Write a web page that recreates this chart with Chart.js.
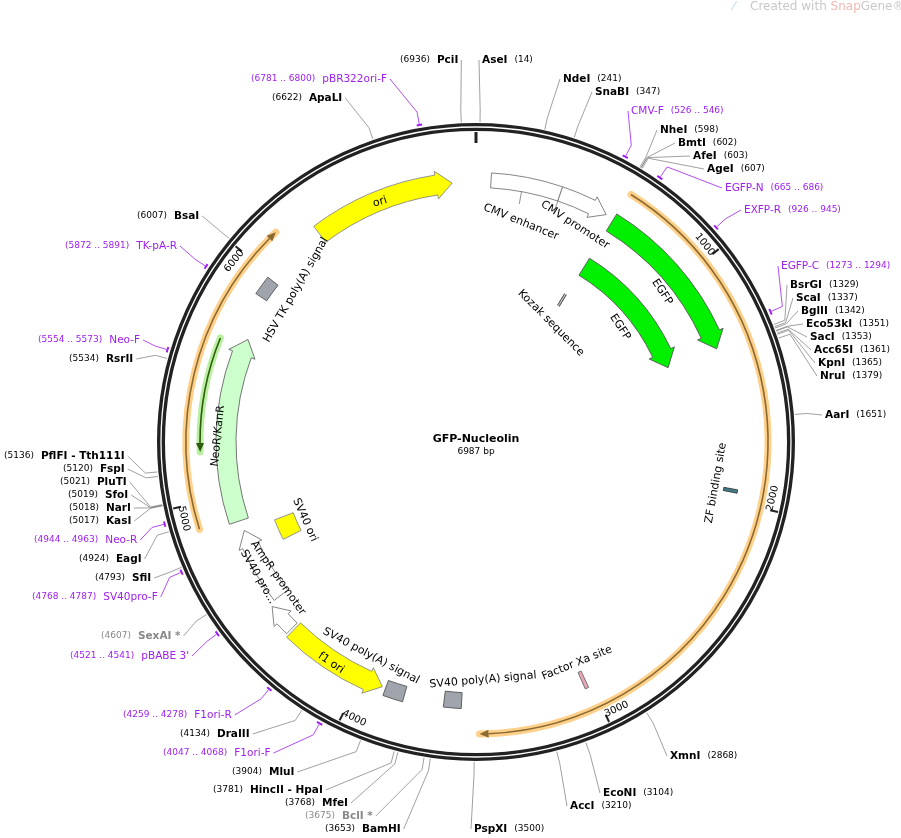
<!DOCTYPE html>
<html>
<head>
<meta charset="utf-8">
<script src="https://cdn.jsdelivr.net/npm/chart.js@4.4.1/dist/chart.umd.min.js"></script>
<style>
body { margin: 0; background: #fff; }
#map { display: block; }
</style>
</head>
<body>
<canvas id="map" width="901" height="838"></canvas>
<script>
const plasmidName = "GFP-Nucleolin";
const plasmidLength = 6987;

// features
const featureNames = ["CMV enhancer", "CMV promoter", "EGFP", "EGFP", "Kozak sequence", "", "", "NeoR/KanR",
  "HSV TK poly(A) signal", "ori", "SV40 ori", "SV40 promoter", "AmpR promoter", "f1 ori",
  "SV40 poly(A) signal", "SV40 poly(A) signal", "Factor Xa site", "ZF binding site", ""];
const featureStart = [64, 364, 615, 615, 605, 622, 5200, 4882, 5900, 6270, 4720, 4500, 4360, 3900, 3800, 3555, 3015, 1948, 4900];
const featureEnd   = [364, 578, 1336, 1336, 612, 3480, 5670, 5710, 5985, 6885, 4830, 4835, 4485, 4350, 3885, 3630, 3030, 1962, 6140];
const featureDir   = [0, 1, 1, 1, 0, 1, -1, 1, 0, 1, 0, 1, 1, -1, 0, 0, 0, 0, 1];

// restriction sites
const siteNames = ["PciI", "AseI", "NdeI", "SnaBI", "NheI", "BmtI", "AfeI", "AgeI", "BsrGI", "ScaI", "BglII",
  "Eco53kI", "SacI", "Acc65I", "KpnI", "NruI", "AarI", "XmnI", "EcoNI", "AccI", "PspXI", "BamHI", "BclI *",
  "MfeI", "HincII - HpaI", "MluI", "DraIII", "SexAI *", "SfiI", "EagI", "KasI", "NarI", "SfoI", "PluTI",
  "FspI", "PflFI - Tth111I", "RsrII", "BsaI", "ApaLI"];
const sitePos = [6936, 14, 241, 347, 598, 602, 603, 607, 1329, 1337, 1342, 1351, 1353, 1361, 1365, 1379, 1651,
  2868, 3104, 3210, 3500, 3653, 3675, 3768, 3781, 3904, 4134, 4607, 4793, 4924, 5017, 5018, 5019, 5021,
  5120, 5136, 5534, 6007, 6622];

// primers
const primerNames = ["CMV-F", "EGFP-N", "EXFP-R", "EGFP-C", "F1ori-F", "F1ori-R", "pBABE 3'", "SV40pro-F",
  "Neo-R", "Neo-F", "TK-pA-R", "pBR322ori-F"];
const primerStart = [526, 665, 926, 1273, 4047, 4259, 4521, 4768, 4944, 5554, 5872, 6781];
const primerEnd   = [546, 686, 945, 1294, 4068, 4278, 4541, 4787, 4963, 5573, 5891, 6800];

// ruler
const rulerTicks = [1000, 2000, 3000, 4000, 5000, 6000];

// ---- layout / style (not data) ----
const featureStyle = [
  { r: 262, w: 15, fill: "#ffffff", line: "#777" },
  { r: 262, w: 15, fill: "#ffffff", line: "#777" },
  { r: 258, w: 20, fill: "#00f000", line: "#555" },
  { r: 206, w: 20, fill: "#00f000", line: "#555" },
  { r: 166, w: 14, fill: "#ddd", line: "#666", thin: true },
  { r: 292, glow: "#ffd08a", line: "#8a6a30" },
  { r: 276, glow: "#b8f0a0", line: "#2f5a10" },
  { r: 250, w: 20, fill: "#ccffcc", line: "#666" },
  { r: 259, w: 13, fill: "#a0a4ac", line: "#555" },
  { r: 260, w: 20, fill: "#ffff00", line: "#888" },
  { r: 206, w: 20, fill: "#ffff00", line: "#888" },
  { r: 248, w: 17, fill: "#ffffff", line: "#777" },
  { r: 262, w: 15, fill: "#ffffff", line: "#777" },
  { r: 262, w: 20, fill: "#ffff00", line: "#888" },
  { r: 262, w: 16, fill: "#a0a4ac", line: "#555" },
  { r: 259, w: 16, fill: "#a0a4ac", line: "#555" },
  { r: 261, w: 18, fill: "#e8a8b8", line: "#666" },
  { r: 259, w: 14, fill: "#3f7f8c", line: "#333" },
  { r: 290, glow: "#ffd08a", line: "#8a6a30" }
];
const featureLabelAt = [
  [521, 222, 22], [575, 225, 33], [662, 292, 57], [620, 327, 57], [551, 323, 45], null, null,
  [218, 436, -84], [296, 290, -60], [380, 202, -17], [305, 520, 66], [258, 577, 60], [278, 578, 55],
  [331, 663, 34], [371, 656, 28], [483, 680, -5], [577, 663, -22], [716, 483, -80], null
];
const siteLabelAt = [
  [400, 60, -1], [482, 60, 1], [563, 79, 1], [595, 92, 1], [660, 130, 1], [678, 143, 1], [693, 156, 1],
  [707, 169, 1], [790, 285, 1], [796, 298, 1], [801, 311, 1], [806, 324, 1], [810, 337, 1], [814, 350, 1],
  [818, 363, 1], [820, 376, 1], [825, 415, 1], [670, 756, 1], [603, 793, 1], [570, 806, 1], [474, 829, 1],
  [325, 829, -1], [305, 816, -1], [285, 803, -1], [213, 790, -1], [232, 772, -1], [180, 734, -1],
  [101, 636, -1], [95, 578, -1], [79, 559, -1], [69, 521, -1], [69, 508, -1], [68, 495, -1], [60, 482, -1],
  [63, 469, -1], [4, 456, -1], [69, 359, -1], [137, 216, -1], [272, 98, -1]
];
const primerLabelAt = [
  [631, 111, 1], [725, 188, 1], [744, 210, 1], [781, 266, 1], [163, 753, -1], [123, 715, -1], [70, 656, -1],
  [32, 597, -1], [34, 540, -1], [38, 340, -1], [65, 246, -1], [251, 79, -1]
];

const FONT = "'DejaVu Sans', sans-serif";
const deg = bp => bp / plasmidLength * 360;

const mapPlugin = {
  id: "plasmidMap",
  afterDraw(chart) {
    const ctx = chart.ctx;
    const xs = chart.scales.x, ys = chart.scales.y;
    const cx = xs.getPixelForValue(0), cy = ys.getPixelForValue(0);
    const k = xs.getPixelForValue(1) - cx;
    const pt = (bp, r) => {
      const t = deg(bp) * Math.PI / 180;
      return [xs.getPixelForValue(r * Math.sin(t)), ys.getPixelForValue(r * Math.cos(t))];
    };
    const ca = bp => (deg(bp) - 90) * Math.PI / 180;

    function leader(bp, r0, lx, ly, side, w, color) {
      const p = pt(bp, r0);
      const p2 = pt(bp, r0 + 12);
      ctx.strokeStyle = color; ctx.lineWidth = 0.8;
      ctx.beginPath(); ctx.moveTo(p[0], p[1]); ctx.lineTo(p2[0], p2[1]);
      ctx.lineTo(side > 0 ? lx - 3 : lx + w + 3, ly); ctx.stroke();
    }
    function twoPart(x, y, a, fa, b, fb, color) {
      ctx.fillStyle = color; ctx.textBaseline = "middle"; ctx.textAlign = "left";
      ctx.font = fa; ctx.fillText(a, x, y);
      const w1 = ctx.measureText(a).width + 7;
      ctx.font = fb; ctx.fillText(b, x + w1, y);
    }
    function measure(a, fa, b, fb) {
      ctx.font = fa; const w1 = ctx.measureText(a).width + 7;
      ctx.font = fb; return w1 + ctx.measureText(b).width;
    }

    sitePos.forEach((pos, i) => {
      const [lx, ly, side] = siteLabelAt[i];
      const grey = siteNames[i].includes("*");
      const nf = "bold 10.5px " + FONT, pf = "9px " + FONT;
      const w = side > 0 ? measure(siteNames[i], nf, "(" + pos + ")", pf) : measure("(" + pos + ")", pf, siteNames[i], nf);
      leader(pos, 320, lx, ly, side, w, "#888");
      const col = grey ? "#888" : "#000";
      if (side > 0) twoPart(lx, ly, siteNames[i], nf, "(" + pos + ")", pf, col);
      else twoPart(lx, ly, "(" + pos + ")", pf, siteNames[i], nf, col);
    });

    primerStart.forEach((s, i) => {
      const e = primerEnd[i];
      const [lx, ly, side] = primerLabelAt[i];
      const rng = "(" + s + " .. " + e + ")";
      const nf = "10.5px " + FONT, pf = "9px " + FONT;
      const w = side > 0 ? measure(primerNames[i], nf, rng, pf) : measure(rng, pf, primerNames[i], nf);
      const mid = (s + e) / 2;
      leader(mid, 323, lx, ly, side, w, "#a020f0");
      ctx.strokeStyle = "#a020f0"; ctx.lineWidth = 2;
      ctx.beginPath(); ctx.arc(cx, cy, 322 * k, ca(s), ca(e)); ctx.stroke();
      if (side > 0) twoPart(lx, ly, primerNames[i], nf, rng, pf, "#a020f0");
      else twoPart(lx, ly, rng, pf, primerNames[i], nf, "#a020f0");
    });

    // backbone ring
    ctx.strokeStyle = "#222"; ctx.lineWidth = 8;
    ctx.beginPath(); ctx.arc(cx, cy, 315 * k, 0, Math.PI * 2); ctx.stroke();
    ctx.strokeStyle = "#fff"; ctx.lineWidth = 1.3;
    ctx.beginPath(); ctx.arc(cx, cy, 315 * k, 0, Math.PI * 2); ctx.stroke();

    // ruler
    ctx.strokeStyle = "#222"; ctx.lineWidth = 3;
    const a = pt(0, 310), b = pt(0, 299);
    ctx.beginPath(); ctx.moveTo(a[0], a[1]); ctx.lineTo(b[0], b[1]); ctx.stroke();
    rulerTicks.forEach(t => {
      const a1 = pt(t, 310), b1 = pt(t, 302);
      ctx.lineWidth = 2;
      ctx.beginPath(); ctx.moveTo(a1[0], a1[1]); ctx.lineTo(b1[0], b1[1]); ctx.stroke();
      const d = deg(t);
      const q = pt(t - 45, 302);
      let rot = d;
      if (d > 90 && d < 270) rot = d - 180;
      ctx.save(); ctx.translate(q[0], q[1]); ctx.rotate(rot * Math.PI / 180);
      ctx.font = "10px " + FONT; ctx.fillStyle = "#000"; ctx.textAlign = "center"; ctx.textBaseline = "middle";
      ctx.fillText(String(t), 0, 0); ctx.restore();
    });

    // features
    featureStart.forEach((s, i) => {
      const e = featureEnd[i], st = featureStyle[i], dir = featureDir[i];
      const R = st.r * k;
      if (st.glow) {
        const a0 = ca(s), a1 = ca(e);
        ctx.lineCap = "round";
        ctx.strokeStyle = st.glow; ctx.lineWidth = 7;
        ctx.beginPath(); ctx.arc(cx, cy, R, a0, a1); ctx.stroke();
        ctx.lineCap = "butt";
        ctx.strokeStyle = st.line; ctx.lineWidth = 1.6;
        const h = 9 / R;
        ctx.beginPath();
        if (dir > 0) ctx.arc(cx, cy, R, a0, a1 - h); else ctx.arc(cx, cy, R, a0 + h, a1);
        ctx.stroke();
        const tip = dir > 0 ? a1 : a0, base = dir > 0 ? a1 - h : a0 + h;
        ctx.fillStyle = st.line; ctx.beginPath();
        ctx.moveTo(cx + R * Math.cos(tip), cy + R * Math.sin(tip));
        ctx.lineTo(cx + (R + 4) * Math.cos(base), cy + (R + 4) * Math.sin(base));
        ctx.lineTo(cx + (R - 4) * Math.cos(base), cy + (R - 4) * Math.sin(base));
        ctx.closePath(); ctx.fill();
        return;
      }
      if (st.thin) {
        const p = pt(s, st.r - 7), q = pt(s, st.r + 7);
        ctx.strokeStyle = "#555"; ctx.lineWidth = 3;
        ctx.beginPath(); ctx.moveTo(p[0], p[1]); ctx.lineTo(q[0], q[1]); ctx.stroke();
        ctx.strokeStyle = "#ddd"; ctx.lineWidth = 1;
        ctx.beginPath(); ctx.moveTo(p[0], p[1]); ctx.lineTo(q[0], q[1]); ctx.stroke();
        return;
      }
      const ri = R - st.w / 2, ro = R + st.w / 2;
      const a0 = ca(s), a1 = ca(e);
      ctx.beginPath();
      if (dir === 0) {
        ctx.arc(cx, cy, ro, a0, a1); ctx.arc(cx, cy, ri, a1, a0, true);
      } else {
        const h = Math.min(16 / R, (a1 - a0) * 0.6);
        if (dir > 0) {
          ctx.arc(cx, cy, ro, a0, a1 - h);
          ctx.lineTo(cx + (ro + 4) * Math.cos(a1 - h), cy + (ro + 4) * Math.sin(a1 - h));
          ctx.lineTo(cx + R * Math.cos(a1), cy + R * Math.sin(a1));
          ctx.lineTo(cx + (ri - 4) * Math.cos(a1 - h), cy + (ri - 4) * Math.sin(a1 - h));
          ctx.arc(cx, cy, ri, a1 - h, a0, true);
        } else {
          ctx.moveTo(cx + R * Math.cos(a0), cy + R * Math.sin(a0));
          ctx.lineTo(cx + (ro + 4) * Math.cos(a0 + h), cy + (ro + 4) * Math.sin(a0 + h));
          ctx.arc(cx, cy, ro, a0 + h, a1);
          ctx.arc(cx, cy, ri, a1, a0 + h, true);
          ctx.lineTo(cx + (ri - 4) * Math.cos(a0 + h), cy + (ri - 4) * Math.sin(a0 + h));
        }
      }
      ctx.closePath();
      ctx.fillStyle = st.fill; ctx.fill();
      ctx.strokeStyle = st.line; ctx.lineWidth = 0.9; ctx.stroke();
    });
    // little pointer lines from CMV labels to the arrow
    ctx.strokeStyle = "#777"; ctx.lineWidth = 0.8;
    [[200, 255, 242], [364, 255, 242]].forEach(([bp, r0, r1]) => {
      const p = pt(bp, r0), q = pt(bp, r1);
      ctx.beginPath(); ctx.moveTo(p[0], p[1]); ctx.lineTo(q[0], q[1]); ctx.stroke();
    });

    // feature labels
    featureNames.forEach((n, i) => {
      const L = featureLabelAt[i];
      if (!L || !n) return;
      const txt = i === 11 ? "SV40 pro..." : n;
      ctx.save(); ctx.translate(L[0], L[1]); ctx.rotate(L[2] * Math.PI / 180);
      ctx.font = "11px " + FONT; ctx.fillStyle = "#000"; ctx.textAlign = "center"; ctx.textBaseline = "middle";
      ctx.fillText(txt, 0, 0); ctx.restore();
    });

    // centre title
    ctx.textAlign = "center"; ctx.textBaseline = "middle"; ctx.fillStyle = "#000";
    ctx.font = "bold 11px " + FONT; ctx.fillText(plasmidName, cx, cy - 3);
    ctx.font = "9px " + FONT; ctx.fillText(plasmidLength + " bp", cx, cy + 10);

    // watermark
    ctx.textAlign = "left"; ctx.font = "12px " + FONT;
    ctx.fillStyle = "#b8d8ea"; ctx.fillText("⁄", 733, 7);
    ctx.fillStyle = "#c8c8c8"; ctx.fillText("Created with ", 750, 7);
    const w = ctx.measureText("Created with ").width;
    ctx.fillStyle = "#f0b8b0"; ctx.fillText("Snap", 750 + w, 7);
    const w2 = ctx.measureText("Snap").width;
    ctx.fillStyle = "#c8c8c8"; ctx.fillText("Gene®", 750 + w + w2, 7);
  }
};

new Chart(document.getElementById("map"), {
  type: "scatter",
  data: { datasets: [{ data: [], pointRadius: 0 }] },
  options: {
    responsive: false,
    animation: false,
    layout: { padding: { left: 96, right: 45, top: 62, bottom: 16 } },
    plugins: { legend: { display: false }, tooltip: { enabled: false } },
    scales: {
      x: { type: "linear", min: -380, max: 380, display: false },
      y: { type: "linear", min: -380, max: 380, display: false }
    }
  },
  plugins: [mapPlugin]
});
</script>
</body>
</html>
